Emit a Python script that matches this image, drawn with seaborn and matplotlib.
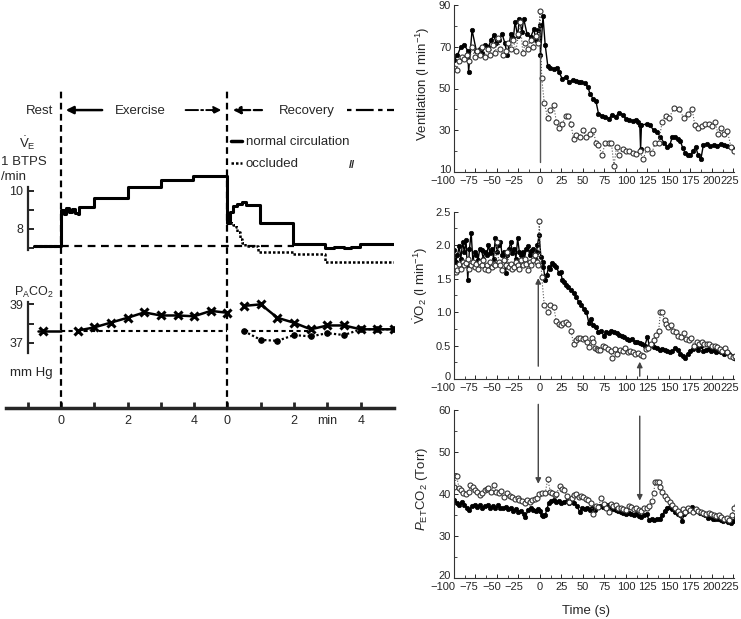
import numpy as np
import seaborn as sns
import matplotlib.pyplot as plt
from matplotlib.lines import Line2D
from matplotlib.ticker import MultipleLocator
from matplotlib.transforms import ScaledTranslation

sns.set_style("ticks")
plt.rcParams["font.family"] = ["Liberation Sans", "DejaVu Sans"]
plt.rcParams["mathtext.fontset"] = "custom"
plt.rcParams["mathtext.rm"] = "Liberation Sans"
plt.rcParams["mathtext.it"] = "Liberation Sans:italic"
plt.rcParams["mathtext.bf"] = "Liberation Sans:bold"

# ---------------- left panel (x in min, recovery starts at 5) ----------------
ve_rest_t = [-0.8, 0.0]
ve_rest = [7.1, 7.1]
ve_norm_t = [-0.8, 0.0, 0.08, 0.16, 0.24, 0.32, 0.42, 0.5, 0.55, 1.0, 2.0, 3.0, 3.95,
             5.0, 5.08, 5.16, 5.3, 5.45, 5.55, 5.97, 6.96, 7.92, 8.2, 8.5, 8.7, 8.97, 10.0]
ve_norm = [7.1, 9.0, 8.8, 9.1, 8.9, 9.05, 8.85, 8.8, 9.15, 9.63, 10.21, 10.56, 10.77,
           8.3, 8.9, 9.2, 9.3, 9.4, 9.25, 8.29, 7.2, 7.02, 7.08, 7.0, 7.06, 7.2, 7.2]
ve_occ_t = [5.0, 5.1, 5.17, 5.25, 5.29, 5.37, 5.45, 5.52, 5.92, 6.97, 7.92, 10.0]
ve_occ = [8.4, 8.3, 8.2, 8.1, 7.86, 7.5, 7.25, 7.13, 6.81, 6.67, 6.29, 6.29]
ve_base_t = [0.0, 7.0]
ve_base = [7.12, 7.12]

pa_rest_t = [-0.7, -0.54, 0.0]
pa_rest = [37.63, 37.63, 37.63]
pa_ex_t = [0.5, 1.0, 1.5, 2.0, 2.5, 3.0, 3.5, 4.0, 4.5, 5.0]
pa_ex = [37.63, 37.8, 38.05, 38.3, 38.58, 38.42, 38.42, 38.38, 38.66, 38.56]
pa_rec_t = [5.5, 6.0, 6.5, 7.0, 7.5, 8.0, 8.5, 9.0, 9.5, 10.0]
pa_rec_norm = [38.92, 39.0, 38.3, 38.04, 37.7, 37.9, 37.9, 37.7, 37.7, 37.7]
pa_rec_occ = [37.6, 37.15, 37.1, 37.4, 37.33, 37.5, 37.4, 37.7, 37.7, 37.7]
pa_base_t = [0.0, 5.0, np.nan, 5.5, 7.5]
pa_base = [37.63, 37.63, np.nan, 37.63, 37.63]

phase_starts = [0.0, 5.0]
min_ticks = [-1, 0, 1, 2, 3, 4, 5, 6, 7, 8, 9]
min_labels = ["", "0", "", "2", "", "4", "0", "", "2", "min", "4"]

# ---------------- right panels (time in s) ----------------
time_ticks = list(range(-100, 226, 25))

ve_f_t = [-100, -96, -92, -88, -84, -83, -79, -74, -70, -67, -64, -60, -57, -54, -51, -48, -44, -41,
          -38, -34, -31, -29, -26, -24, -21, -19, -15, -11, -7, -5, -2, 0, 0.5, 3.5, 6, 9, 12, 16,
          20, 22, 26, 30, 34, 38, 42, 45, 48, 52, 56, 58, 62, 65, 68, 72, 76, 80, 84, 88, 92, 96,
          100, 104, 108, 112, 114, 116, 117, 118, 124, 128, 132, 136, 140, 144, 148, 151, 154, 157,
          160, 163, 166, 169, 172, 175, 178, 181, 184, 187, 190, 194, 198, 202, 206, 210, 214, 218,
          222, 226, 229, 231]
ve_f = [63.5, 66, 70, 71, 68, 58, 78, 68, 69, 67, 71, 70, 73, 75.5, 72, 73, 76, 72,
        66, 76, 74, 82, 75, 83.5, 77, 83.5, 76, 74.5, 78.5, 73, 78, 80.5, 66, 84.5, 71, 61, 60, 59.5,
        60, 58, 54.5, 55.5, 53, 54, 53.5, 53, 53, 52.5, 50.5, 47.5, 45, 44, 38, 37, 36.5, 35.5, 37.5,
        36.5, 38.5, 37.5, 35.5, 35, 34.5, 35, 34, 32.5, 21, 32.5, 33, 32.5, 30, 29, 27, 24, 22, 23,
        27, 27, 26, 25, 21.5, 19, 18, 18, 20, 22, 18, 16, 23, 23.5, 22.5, 23, 22.5, 23.5, 23, 22.5,
        22, 21, 18, 16.5]
ve_o_t = [-100, -97, -94, -91, -88, -85, -82, -79, -76, -73, -70, -67, -64, -61, -58, -55, -52, -49,
          -46, -43, -40, -37, -34, -31, -28, -25, -23, -20, -17, -14, -11, -8, -5, -2, 0, 2, 5, 9, 12,
          16, 19, 22, 26, 30, 33, 36, 39, 42, 46, 50, 54, 58, 62, 65, 68, 72, 76, 80, 83, 86, 89, 92,
          96, 100, 104, 108, 112, 116, 120, 124, 130, 134, 138, 142, 146, 150, 156, 162, 167, 172,
          177, 180, 184, 188, 192, 196, 200, 204, 207, 210, 214, 218, 222, 226, 230]
ve_o = [60, 59, 63, 65, 64, 66, 63, 70, 65, 68, 66, 70, 65, 69, 66, 71, 67, 74,
        69, 66, 68, 72, 69, 73, 68, 76, 82, 67, 72, 69, 73, 70, 75, 72, 87, 55, 43, 36, 39.5,
        42, 34, 31, 33, 37, 37, 33, 26, 27.5, 27, 30, 27, 28, 30, 24, 23, 18, 24, 24, 24, 13, 22, 18,
        21, 20, 20, 19, 18.5, 20, 16, 21, 19, 24, 24, 34, 37, 36, 40.5, 40, 36,
        38, 40, 32.5, 31, 32, 33, 33, 32, 34, 28, 31, 28, 29.5, 22, 20, 19]

vo_f_t = [-100, -98, -96, -94, -92, -90, -88, -86, -84, -82, -80, -78, -76, -74, -72, -70, -68, -66,
          -64, -62, -60, -58, -56, -54, -52, -50, -48, -46, -44, -42, -40, -38, -36, -34, -32, -30,
          -28, -26, -24, -22, -20, -18, -16, -14, -12, -10, -8, -6, -4, -3, -1, 1, 3, 4, 6, 8, 10,
          12, 14, 16, 19, 22, 24, 26, 28, 30, 33, 36, 39, 42, 45, 48, 51, 54, 57, 59, 62, 65, 68, 71,
          74, 77, 80, 83, 86, 89, 92, 95, 98, 101, 104, 107, 110, 113, 116, 119, 122, 125, 127, 130,
          133, 136, 139, 142, 145, 148, 151, 154, 157, 160, 163, 166, 169, 172, 175, 178, 181, 184,
          187, 190, 193, 196, 199, 202, 205, 208, 211, 214, 217, 220, 223, 226, 228]
vo_f = [1.93, 1.75, 1.85, 1.98, 1.8, 2.05, 1.9, 2.08, 1.48, 1.95, 2.18, 1.75, 1.9, 1.85, 1.78, 1.95,
        1.93, 1.8, 1.9, 1.85, 2.0, 1.88, 1.95, 1.8, 2.1, 1.9, 2.0, 2.05, 1.85, 1.9, 1.58, 1.85, 1.95,
        2.05, 1.88, 1.95, 1.8, 2.1, 1.9, 1.85, 1.9, 1.8, 1.95, 1.98, 1.85, 1.92, 1.95, 1.8, 1.9, 2.0,
        2.15, 1.83, 1.75, 1.68, 1.48, 1.55, 1.68, 1.65, 1.73, 1.7, 1.68, 1.58, 1.6, 1.48, 1.45, 1.4,
        1.38, 1.33, 1.28, 1.23, 1.15, 1.1, 1.05, 1.0, 0.83, 0.9, 0.8, 0.78, 0.7, 0.72, 0.65, 0.7,
        0.68, 0.72, 0.7, 0.68, 0.66, 0.65, 0.63, 0.6, 0.58, 0.6, 0.56, 0.55, 0.54, 0.52, 0.5, 0.63,
        0.5, 0.52, 0.48, 0.47, 0.44, 0.45, 0.43, 0.42, 0.4, 0.42, 0.46, 0.43, 0.38, 0.35, 0.32, 0.38,
        0.42, 0.45, 0.48, 0.44, 0.5, 0.42, 0.44, 0.45, 0.42, 0.43, 0.41, 0.42, 0.4, 0.38, 0.4, 0.37,
        0.35, 0.32, 0.3]
vo_o_t = [-100, -98, -96, -94, -92, -90, -88, -86, -84, -82, -80, -78, -76, -74, -72, -70, -68, -66,
          -64, -62, -60, -58, -56, -54, -52, -50, -48, -46, -44, -42, -40, -38, -36, -34, -32, -30,
          -28, -26, -24, -22, -20, -18, -16, -14, -12, -10, -8, -6, -4, -2, -1, 2, 5, 9, 12, 16, 19,
          22, 24, 27, 30, 33, 36, 39, 42, 44, 47, 50, 52, 55, 57, 60, 62, 64, 66, 68, 70, 73, 76, 79,
          82, 84, 87, 90, 93, 96, 99, 102, 105, 108, 111, 114, 117, 120, 123, 126, 129, 132, 135, 138,
          140, 142, 145, 147, 149, 152, 155, 158, 161, 164, 167, 170, 173, 176, 179, 182, 185, 188,
          191, 194, 197, 200, 203, 206, 209, 212, 215, 218, 221, 224, 227, 230]
vo_o = [1.6, 1.6, 1.63, 1.72, 1.65, 1.75, 1.7, 1.73, 1.8, 1.65, 1.7, 1.75, 1.68, 1.72, 1.65, 1.75,
        1.7, 1.78, 1.65, 1.7, 1.63, 1.75, 1.68, 1.72, 1.7, 2.05, 1.75, 1.7, 1.63, 1.78, 1.7, 1.9,
        1.68, 1.72, 1.65, 1.68, 1.75, 1.7, 1.65, 1.78, 1.7, 1.8, 1.72, 1.63, 1.75, 1.7, 1.78, 1.85,
        1.75, 1.7, 2.36, 1.53, 1.1, 1.0, 1.1, 1.08, 0.86, 0.82, 0.8, 0.84, 0.85, 0.82, 0.72, 0.53,
        0.58, 0.61, 0.62, 0.6, 0.62, 0.55, 0.48, 0.61, 0.55, 0.47, 0.45, 0.44, 0.44, 0.5, 0.48, 0.45,
        0.42, 0.31, 0.45, 0.38, 0.44, 0.42, 0.46, 0.4, 0.42, 0.4, 0.37, 0.39, 0.36, 0.34, 0.45, 0.47,
        0.52, 0.58, 0.66, 0.72, 1.0, 1.0, 0.88, 0.82, 0.78, 0.8, 0.72, 0.7, 0.65, 0.63, 0.68, 0.6,
        0.58, 0.62, 0.5, 0.55, 0.52, 0.55, 0.53, 0.52, 0.52, 0.5, 0.5, 0.48, 0.45, 0.42, 0.47, 0.4,
        0.35, 0.33, 0.35, 0.37]

pe_f_t = [-100, -97, -94, -91, -88, -85, -82, -79, -76, -73, -70, -67, -64, -61, -58, -55, -52, -49,
          -46, -43, -40, -37, -34, -31, -28, -25, -22, -19, -17, -14, -11, -8, -5, -2, 0, 2, 4, 6, 8,
          10, 13, 16, 19, 22, 25, 28, 31, 34, 37, 40, 43, 46, 49, 52, 55, 58, 61, 64, 67, 70, 73, 76,
          79, 82, 85, 88, 91, 94, 97, 100, 103, 106, 109, 112, 115, 118, 121, 124, 127, 130, 133, 136,
          139, 142, 145, 148, 151, 154, 157, 160, 163, 165, 168, 171, 174, 177, 180, 183, 186, 189,
          192, 195, 198, 201, 204, 207, 210, 213, 216, 219, 222, 225, 228]
pe_f = [38.5, 38, 37.5, 38.2, 37.5, 36.8, 36.3, 37.2, 37.5, 37, 37.4, 36.8, 37.2, 37.4, 36.8, 37.2,
        36.6, 37.4, 36.8, 36.6, 37, 36.4, 36.6, 36, 36.5, 35.8, 36, 35.2, 34.6, 36.2, 36.6, 36.2, 36,
        36.4, 36, 35, 34.8, 35, 36.4, 37.8, 38.4, 38.6, 38.2, 38.4, 38, 38.2, 38.4, 38, 38.2, 38,
        37.2, 35.8, 36.6, 36.4, 36.8, 36.2, 36.6, 36.2, 37, 37.2, 37, 37.2, 37.4, 37, 36.5, 36.2, 36,
        35.8, 35.5, 35.4, 35.6, 35.2, 35, 35.4, 34.8, 34.6, 35, 35.2, 33.8, 34, 33.8, 34, 34.2, 35,
        36, 36.8, 37, 36.4, 35.8, 35.2, 35, 33.6, 35.4, 36, 36.4, 37, 36.4, 36, 35.6, 35.2, 35, 34.4,
        34.6, 34.2, 34, 34.2, 33.8, 33.6, 33.8, 33.4, 33.2, 33.6, 34.6]
pe_o_t = [-100, -97, -94, -92, -89, -86, -83, -81, -78, -76, -73, -70, -67, -64, -62, -60, -57, -54,
          -51, -48, -45, -42, -38, -35, -32, -29, -26, -24, -21, -18, -15, -12, -9, -6, -4, -1, 2, 6,
          9, 12, 14, 17, 19, 23, 26, 28, 31, 34, 37, 40, 42, 45, 48, 50, 53, 56, 59, 62, 65, 68, 71,
          74, 77, 80, 82, 85, 88, 91, 94, 97, 100, 103, 106, 109, 112, 115, 118, 121, 124, 127, 130,
          132, 134, 136, 138, 140, 142, 145, 148, 151, 154, 157, 160, 163, 166, 169, 172, 175, 178,
          181, 184, 187, 190, 193, 196, 199, 202, 205, 208, 211, 214, 217, 220, 223, 226, 229, 231]
pe_o = [41.8, 44.2, 41.4, 41, 40.2, 40, 40.4, 42.2, 41.6, 41, 40.4, 39.8, 40.2, 41, 41.2, 41.4,
        40.4, 42.2, 40.6, 40.2, 40.8, 39.4, 40.2, 39.6, 39.4, 38.8, 39, 38.6, 38.4, 37.8, 38.6, 38.2,
        38.6, 38.8, 39, 40, 40.2, 40.2, 43.6, 40.6, 40.2, 39.8, 40, 42, 41.2, 41, 39.6, 38.2, 39.2,
        39.8, 40, 39.4, 39.6, 39.4, 38.8, 38.6, 38, 35.4, 37.2, 37, 39.2, 37.6, 36.6, 35.8, 37.6,
        37.2, 37.4, 36.8, 36.6, 36.4, 36.2, 37.2, 37, 36.4, 36.6, 36.2, 36, 36.6, 36.8, 37.2, 38.4,
        40.2, 42.8, 43, 43, 41.8, 40.6, 39.6, 38.8, 38.2, 37.4, 36.6, 36, 35.4, 36.4, 35.8, 36.6,
        36.2, 35.8, 36.4, 36, 35.8, 35.6, 35.4, 35.6, 35.2, 35, 34.8, 35, 34.6, 34.2, 34.4, 33.8, 35,
        36.8, 37.4, 37.6]

# occlusion markers (s)
mark_t = [-2, 116]

fig = plt.figure(figsize=(7.41, 6.19), dpi=100)


def fx(x):
    return x / 741


def fy(y):
    return 1 - y / 619


def nudge(text, dx_pt, dy_pt):
    text.set_transform(text.get_transform() +
                       ScaledTranslation(dx_pt / 72, dy_pt / 72, fig.dpi_scale_trans))


# ---------- left panel ----------
ax_ve = fig.add_axes([0, fy(265), fx(394), 185 / 619])
ax_pa = fig.add_axes([0, fy(408), fx(394), 143 / 619])
for ax in (ax_ve, ax_pa):
    ax.set_facecolor("none")
    ax.set_xlim(-1.83, 10.0)
    for s in ("top", "right", "bottom"):
        ax.spines[s].set_visible(False)
    ax.spines["left"].set_position(("data", -1.0))
    ax.spines["left"].set_linewidth(1.6)
    ax.tick_params(axis="y", direction="in", length=4, width=1.4, pad=3, labelsize=9)
ax_ve.set_ylim(6.12, 15.78)
ax_pa.set_ylim(33.6, 41.05)
ax_ve.spines["left"].set_bounds(6.9, 10.2)
ax_pa.spines["left"].set_bounds(36.45, 39.14)
ax_ve.set_xticks([])
ax_ve.set_yticks([7, 8, 9, 10])
ax_ve.set_yticklabels(["", "8", "", "10"])
ax_pa.set_yticks([37, 38, 39])
ax_pa.set_yticklabels(["37", "", "39"])

ax_pa.spines["bottom"].set_visible(True)
ax_pa.spines["bottom"].set_linewidth(2.5)
ax_pa.spines["bottom"].set_bounds(-1.65, 10.0)
ax_pa.set_xticks(min_ticks)
ax_pa.set_xticklabels(min_labels)
ax_pa.tick_params(axis="x", direction="in", length=4, width=2, pad=5, labelsize=9)

for x in phase_starts:
    ax_ve.axvline(x, ymin=0, ymax=1 - 8 / 185, color="k", lw=1.6, ls=(0, (3, 2)))
    ax_pa.axvline(x, ymin=0, ymax=1, color="k", lw=1.6, ls=(0, (3, 2)))

ax_ve.plot(ve_base_t, ve_base, color="k", lw=1.6, ls=(0, (3.5, 2.5)))
sns.lineplot(x=ve_norm_t, y=ve_norm, ax=ax_ve, color="k", lw=2.2, drawstyle="steps-post",
             estimator=None, sort=False)
sns.lineplot(x=ve_occ_t, y=ve_occ, ax=ax_ve, color="k", lw=1.8, ls=(0, (1, 0.8)),
             drawstyle="steps-post", estimator=None, sort=False)
sns.lineplot(x=ve_rest_t, y=ve_rest, ax=ax_ve, color="k", lw=2.2, ls=(0, (1, 0.6)),
             estimator=None, sort=False)

ax_pa.plot(pa_base_t, pa_base, color="k", lw=1.5, ls=(0, (2, 1.6)))
sns.lineplot(x=pa_rest_t, y=pa_rest, ax=ax_pa, color="k", lw=1.8, marker="x", markevery=[1],
             markersize=6, markeredgewidth=2.2, markeredgecolor="k", estimator=None, sort=False)
sns.lineplot(x=pa_ex_t, y=pa_ex, ax=ax_pa, color="k", lw=1.8, marker="x",
             markersize=6, markeredgewidth=2.2, markeredgecolor="k", estimator=None, sort=False)
sns.lineplot(x=pa_rec_t, y=pa_rec_occ, ax=ax_pa, color="k", lw=1.6, ls=(0, (1, 1)), marker="o",
             markersize=4, markerfacecolor="k", markeredgecolor="k", estimator=None, sort=False)
sns.lineplot(x=pa_rec_t, y=pa_rec_norm, ax=ax_pa, color="k", lw=1.8, marker="x",
             markersize=6, markeredgewidth=2.2, markeredgecolor="k", estimator=None, sort=False)

# phase header
hy = 14.21
ax_ve.annotate("", xy=(0.06, hy), xytext=(1.32, hy),
               arrowprops=dict(arrowstyle="-|>", color="k", lw=1.8, mutation_scale=11))
ax_ve.annotate("", xy=(4.9, hy), xytext=(3.66, hy),
               arrowprops=dict(arrowstyle="-|>", color="k", lw=1.4, ls="-.", mutation_scale=11))
ax_ve.annotate("", xy=(5.08, hy), xytext=(6.12, hy),
               arrowprops=dict(arrowstyle="-|>", color="k", lw=1.6, ls="--", mutation_scale=11))
ax_ve.plot([8.58, 10.0], [hy, hy], color="k", lw=1.6, ls=(0, (2, 2, 8, 2)), clip_on=False)

fig.text(fx(40), fy(111), "Rest", ha="center", va="center", fontsize=9.5)
fig.text(fx(140), fy(111), "Exercise", ha="center", va="center", fontsize=9.5)
fig.text(fx(307), fy(111), "Recovery", ha="center", va="center", fontsize=9.5)
fig.text(fx(27), fy(143), r"$\dot{\mathrm{V}}\mathrm{_E}$", ha="center", va="center", fontsize=9.5)
fig.text(fx(1), fy(162), "1 BTPS", ha="left", va="center", fontsize=9.5)
fig.text(fx(1), fy(177), "/min", ha="left", va="center", fontsize=9.5)
fig.text(fx(14), fy(292), r"P$_{\mathrm{A}}$CO$_2$", ha="left", va="center", fontsize=9)
fig.text(fx(31), fy(373), "mm Hg", ha="center", va="center", fontsize=9.5)
fig.text(fx(352), fy(165), "//", ha="center", va="center", fontsize=8, fontweight="bold")

ax_ve.legend(handles=[Line2D([], [], color="k", lw=2.5),
                      Line2D([], [], color="k", lw=1.8, ls=(0, (1, 0.8)))],
             labels=["normal circulation", "occluded"], loc="upper left",
             bbox_to_anchor=(fx(231), fy(136)), bbox_transform=fig.transFigure,
             frameon=False, handlelength=0.8, handletextpad=0.3, labelspacing=0.75,
             borderpad=0, borderaxespad=0, prop={"size": 9.5})

# ---------- right panels ----------
def right_axes(top, bottom):
    return fig.add_axes([fx(454), fy(bottom), fx(734) - fx(454), (bottom - top) / 619])


ax1 = right_axes(5, 172)
ax2 = right_axes(211.7, 379)
ax3 = right_axes(410, 578.3)

open_kw = dict(color="#555555", lw=0.8, ls=":", marker="o", markersize=3.6,
               markerfacecolor="white", markeredgecolor="#333333", markeredgewidth=0.8,
               estimator=None, sort=False)
fill_kw = dict(color="k", lw=1.0, marker="o", markersize=3.2, markerfacecolor="k",
               markeredgecolor="k", markeredgewidth=0.5, estimator=None, sort=False)

panels = [
    (ax1, ve_o_t, ve_o, ve_f_t, ve_f, (10, 90), [10, 30, 50, 70, 90], ["10", "30", "50", "70", "90"],
     10, "Ventilation (l min$^{-1}$)"),
    (ax2, vo_o_t, vo_o, vo_f_t, vo_f, (0, 2.5), [0, 0.5, 1.0, 1.5, 2.0, 2.5],
     ["0", "0.5", "1.0", "1.5", "2.0", "2.5"], 0.25, r"$\dot{\mathrm{V}}$O$_2$ (l min$^{-1}$)"),
    (ax3, pe_o_t, pe_o, pe_f_t, pe_f, (20, 60), [20, 30, 40, 50, 60], ["20", "30", "40", "50", "60"],
     5, r"$P_{\mathrm{ET}}$CO$_2$ (Torr)"),
]
ylab_pos = [(-0.078, 0.53), (-0.085, 0.56), (-0.085, 0.535)]
# the original tick labels at the ends sit a little off their ticks (points)
label_shift = {-100: -8.0, -75: -4.7, -50: -3.6, -25: -3.2, 225: -3.0}

for (ax, ot, ov, ft, fv, ylim, yt, ytl, ymin, lab), lp in zip(panels, ylab_pos):
    sns.lineplot(x=ft, y=fv, ax=ax, **fill_kw)
    sns.lineplot(x=ot, y=ov, ax=ax, **open_kw)
    ax.set_xlim(-100, 225.6)
    ax.set_ylim(*ylim)
    ax.set_xticks(time_ticks)
    ax.xaxis.set_minor_locator(MultipleLocator(12.5))
    ax.set_yticks(yt)
    ax.set_yticklabels(ytl)
    ax.yaxis.set_minor_locator(MultipleLocator(ymin))
    ax.set_xlabel("")
    sns.despine(ax=ax)
    for s in ("left", "bottom"):
        ax.spines[s].set_linewidth(0.8)
        ax.spines[s].set_color("#333333")
    ax.tick_params(which="major", direction="in", length=3, width=0.7, labelsize=8, pad=2)
    ax.tick_params(which="minor", direction="in", length=2, width=0.6)
    ax.tick_params(axis="x", pad=2.6)
    ax.set_ylabel(lab, fontsize=9.5)
    ax.yaxis.set_label_coords(*lp)
    for tick, t in zip(ax.xaxis.get_major_ticks(), time_ticks):
        if t in label_shift:
            nudge(tick.label1, label_shift[t], 0)
    nudge(ax.yaxis.get_major_ticks()[0].label1, 0, 2.5)

ax3.set_xlabel("Time (s)", fontsize=9.5)
ax3.xaxis.set_label_coords(0.47, -0.16)

# occlusion markers
ax1.plot([0, 0], [15, 66], color="#555555", lw=1)
ax2.annotate("", xy=(mark_t[0], 1.55), xytext=(mark_t[0], 0.15),
             arrowprops=dict(arrowstyle="-|>", color="#444444", lw=1, mutation_scale=8))
ax2.annotate("", xy=(mark_t[1], 0.3), xytext=(mark_t[1], 0.0),
             arrowprops=dict(arrowstyle="-|>", color="#444444", lw=1, mutation_scale=8))
ax3.annotate("", xy=(mark_t[0], 41.8), xytext=(mark_t[0], 62.0), annotation_clip=False,
             arrowprops=dict(arrowstyle="-|>", color="#444444", lw=1, mutation_scale=8))
ax3.annotate("", xy=(mark_t[1], 37.8), xytext=(mark_t[1], 59.2),
             arrowprops=dict(arrowstyle="-|>", color="#444444", lw=1, mutation_scale=8))

fig.savefig("out.png", dpi=100)
